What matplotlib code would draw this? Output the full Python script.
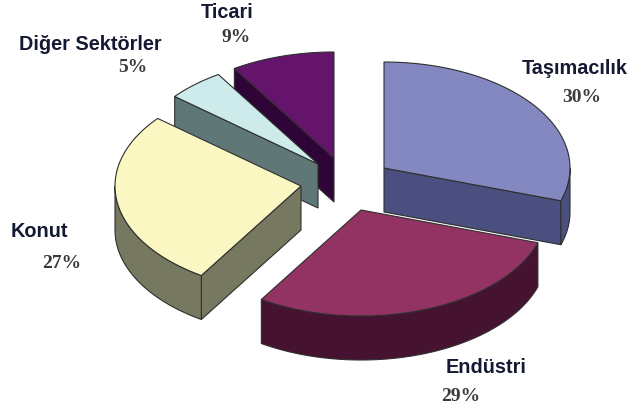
import numpy as np
import matplotlib.pyplot as plt
from matplotlib.patches import Polygon

# Data
labels = ['Taşımacılık', 'Endüstri', 'Konut', 'Diğer Sektörler', 'Ticari']
values = [30, 29, 27, 5, 9]
pct_labels = ['30%', '29%', '27%', '5%', '9%']

# Exploded slice centres, pixels
centers = [(384, 169), (361, 211), (301, 187), (318, 165), (334, 159)]
top_colors = ['#8488c0', '#933364', '#fbf7c3', '#cdebeb', '#64156b']
side_colors = ['#4a4f80', '#45122f', '#76785f', '#5f7877', '#2e0536']
label_pos = [(575, 68), (486, 368), (39, 232), (90, 44), (227, 12)]
pct_pos = [(582, 98), (461, 397), (62, 264), (133, 67), (236, 38)]

rx, ry = 186, 106
depth = 44
edge = '#2f2f2f'

fig = plt.figure(figsize=(6.3, 4.1), dpi=100)
ax = fig.add_axes([0, 0, 1, 1])
ax.set_xlim(0, 630)
ax.set_ylim(410, 0)
ax.axis('off')


def arc_points(c, a0, a1):
    t = np.radians(np.linspace(a0, a1, 80))
    return np.column_stack([c[0] + rx * np.cos(t), c[1] - ry * np.sin(t)])


def wall(pts, color):
    poly = np.vstack([pts, pts[::-1] + [0, depth]])
    ax.add_patch(Polygon(poly, closed=True, fc=color, ec=edge, lw=0.8))


# Slice angles, clockwise from the top
ends = 90 - 3.6 * np.cumsum(values)
starts = np.r_[90, ends[:-1]]

# back slices first, Endüstri lies over the Taşımacılık wall
for i in [4, 3, 2, 0, 1]:
    c = np.array(centers[i])
    a0, a1 = starts[i], ends[i]
    arc = arc_points(c, a0, a1)

    # radial walls that face the viewer
    if i == 0:
        wall(np.array([c, arc[-1]]), side_colors[i])
    if i in (2, 3, 4):
        wall(np.array([c, arc[0]]), side_colors[i])

    # outer wall, only the lower half of the ellipse shows
    lo, hi = max(a1, -180), min(a0, 0)
    if i == 2:
        lo, hi = -180, a0
    if hi > lo and i < 3:
        wall(arc_points(c, lo, hi), side_colors[i])

    ax.add_patch(Polygon(np.vstack([c, arc]), closed=True, fc=top_colors[i], ec=edge, lw=0.8))

for i in range(len(labels)):
    ax.text(*label_pos[i], labels[i], family='Liberation Sans', weight='bold', fontsize=14.3,
            color='#141a33', ha='center', va='center')
    ax.text(*pct_pos[i], pct_labels[i], family='Liberation Serif', weight='bold', fontsize=14,
            color='#3a3a3a', ha='center', va='center')

fig.savefig('out.png', dpi=100)
